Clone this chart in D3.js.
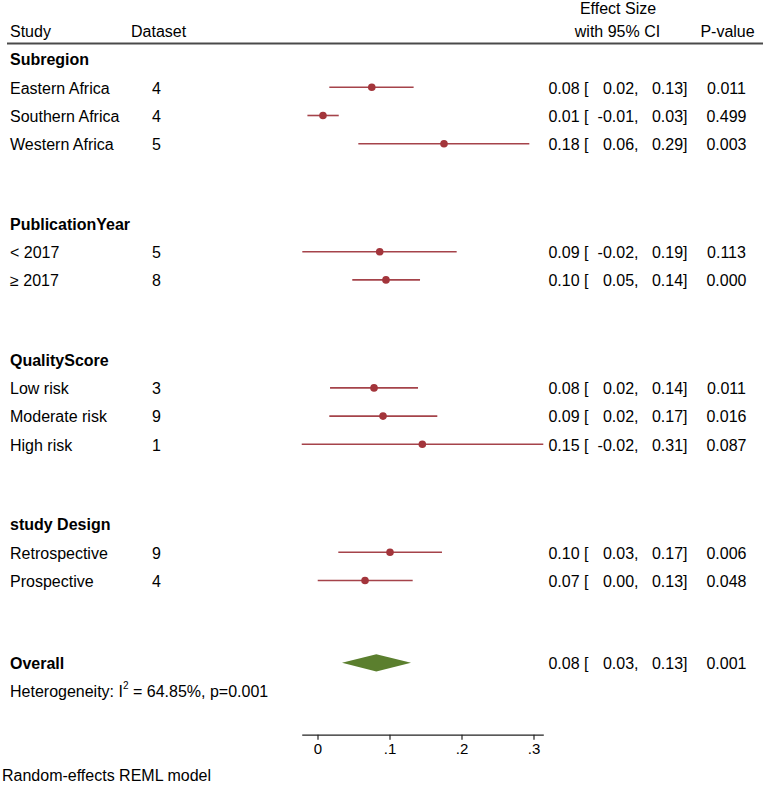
<!DOCTYPE html>
<html><head><meta charset="utf-8">
<script src="https://cdn.jsdelivr.net/npm/d3@7"></script>
<style>
body{margin:0;background:#fff;}
text{font-family:"Liberation Sans",Arial,Helvetica,sans-serif;fill:#000;}
</style></head>
<body>
<script>
// ---- data ----
const groups = ["Subregion", "PublicationYear", "QualityScore", "study Design"];
const studies = ["Eastern Africa","Southern Africa","Western Africa","< 2017","\u2265 2017","Low risk","Moderate risk","High risk","Retrospective","Prospective"];
const studyGroup = [0,0,0,1,1,2,2,2,3,3];
const datasets = [4,4,5,5,8,3,9,1,9,4];
const estimates = [0.0754,0.0076,0.1757,0.0864,0.0951,0.0785,0.0910,0.1456,0.1007,0.0660];
const lower = [0.0164,-0.0140,0.0567,-0.0211,0.0483,0.0174,0.0164,-0.0219,0.0289,0.0003];
const upper = [0.1335,0.0295,0.2942,0.1933,0.1424,0.1396,0.1664,0.3136,0.1729,0.1322];
const pvalues = ["0.011","0.499","0.003","0.113","0.000","0.011","0.016","0.087","0.006","0.048"];
const overall = {est:0.0817, lo:0.0340, hi:0.1299, p:"0.001"};
const heterogeneity = {i2:"64.85%", p:"0.001"};
const xTicks = [0, 0.1, 0.2, 0.3];
const xTickLabels = ["0", ".1", ".2", ".3"];

// ---- layout ----
const W = 765, H = 787;
const svg = d3.select("body").append("svg").attr("width", W).attr("height", H);
const fs = 16;
const red = "#a3353b", lineRed = "#a5434a", green = "#5b7f2e";

// build rows: index positions
const rows = [];
let idx = 0;
groups.forEach((g, gi) => {
  if (gi > 0) idx += 2.83;
  rows.push({type:"header", label:g, pos:idx});
  studies.forEach((s, i) => {
    if (studyGroup[i] === gi) { idx += 1; rows.push({type:"study", i, pos:idx}); }
  });
});
idx += 2.92;
rows.push({type:"overall", pos:idx});
rows.push({type:"het", pos:idx + 0.99});

const y = d3.scaleLinear().domain([0, 1]).range([59.1, 87.3]);
const allLo = d3.min(lower.concat([overall.lo]));
const allHi = d3.max(upper.concat([overall.hi]));
const x = d3.scaleLinear().domain([allLo, allHi]).range([317.5 + 720*allLo, 317.5 + 720*allHi]);

// header
svg.append("text").attr("x", 10).attr("y", 36.5).attr("font-size", fs).text("Study");
svg.append("text").attr("x", 131).attr("y", 36.5).attr("font-size", fs).text("Dataset");
svg.append("text").attr("x", 618).attr("y", 13.5).attr("font-size", fs).attr("text-anchor","middle").text("Effect Size");
svg.append("text").attr("x", 617.5).attr("y", 36.5).attr("font-size", fs).attr("text-anchor","middle").text("with 95% CI");
svg.append("text").attr("x", 727.5).attr("y", 36.5).attr("font-size", fs).attr("text-anchor","middle").text("P-value");
svg.append("line").attr("x1", 7).attr("x2", 763).attr("y1", 43.5).attr("y2", 43.5)
  .attr("stroke", "#4a4a4a").attr("stroke-width", 2);

const fmt = v => v.toFixed(2);
function statText(yy, est, lo, hi, p) {
  svg.append("text").attr("x", 588.5).attr("y", yy).attr("font-size", fs).attr("text-anchor","end").text(fmt(est) + " [");
  svg.append("text").attr("x", 638.5).attr("y", yy).attr("font-size", fs).attr("text-anchor","end").text(fmt(lo) + ",");
  svg.append("text").attr("x", 687.5).attr("y", yy).attr("font-size", fs).attr("text-anchor","end").text(fmt(hi) + "]");
  svg.append("text").attr("x", 726.5).attr("y", yy).attr("font-size", fs).attr("text-anchor","middle").text(p);
}

rows.forEach(r => {
  const yy = y(r.pos);
  const base = yy + 6.3;
  if (r.type === "header") {
    svg.append("text").attr("x", 10).attr("y", base).attr("font-size", fs).attr("font-weight","bold").text(r.label);
  } else if (r.type === "study") {
    const i = r.i;
    svg.append("text").attr("x", 10).attr("y", base).attr("font-size", fs).text(studies[i]);
    svg.append("text").attr("x", 152).attr("y", base).attr("font-size", fs).text(datasets[i]);
    svg.append("line").attr("x1", x(lower[i])).attr("x2", x(upper[i])).attr("y1", yy).attr("y2", yy)
      .attr("stroke", lineRed).attr("stroke-width", 1.6);
    svg.append("circle").attr("cx", x(estimates[i])).attr("cy", yy).attr("r", 3.8).attr("fill", red);
    statText(base, estimates[i], lower[i], upper[i], pvalues[i]);
  } else if (r.type === "overall") {
    svg.append("text").attr("x", 10).attr("y", base).attr("font-size", fs).attr("font-weight","bold").text("Overall");
    const h = 8.7;
    svg.append("path").attr("d", d3.line()([[x(overall.lo), yy],[x(overall.est), yy-h],[x(overall.hi), yy],[x(overall.est), yy+h]]) + "Z")
      .attr("fill", green);
    statText(base, overall.est, overall.lo, overall.hi, overall.p);
  } else if (r.type === "het") {
    const t = svg.append("text").attr("x", 10).attr("y", base).attr("font-size", fs);
    t.append("tspan").text("Heterogeneity: I");
    t.append("tspan").attr("font-size", 10).attr("dy", -8).text("2");
    t.append("tspan").attr("dy", 8).text(" = " + heterogeneity.i2 + ", p=" + heterogeneity.p);
  }
});

// axis
const axisY = 734.7;
const axis = d3.axisBottom(x).tickValues(xTicks).tickFormat((d, i) => xTickLabels[i]).tickSize(5).tickPadding(4).tickSizeOuter(0);
const ag = svg.append("g").attr("transform", `translate(0,${axisY})`).call(axis);
ag.select(".domain").attr("stroke", "#222").attr("stroke-width", 1.2);
ag.selectAll(".tick line").attr("stroke", "#222").attr("stroke-width", 1.2);
ag.selectAll(".tick text").attr("font-size", 15).attr("font-family", "Liberation Sans, Arial, sans-serif").attr("fill", "#000");

svg.append("text").attr("x", 2).attr("y", 781).attr("font-size", 16).text("Random-effects REML model");
</script>
</body></html>
